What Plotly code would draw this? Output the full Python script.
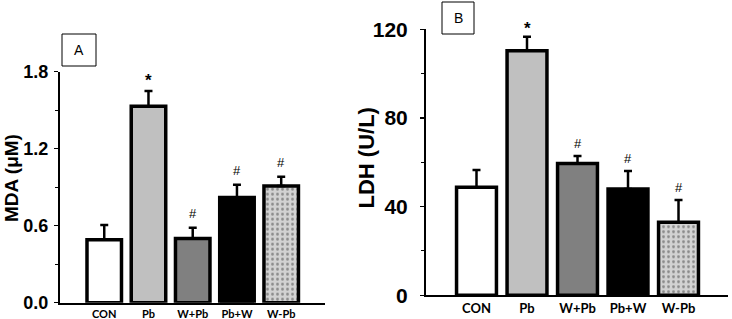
import plotly.graph_objects as go

categories = ["CON", "Pb", "W+Pb", "Pb+W", "W-Pb"]
mda_values = [0.49, 1.53, 0.50, 0.82, 0.91]
mda_errors = [0.115, 0.12, 0.085, 0.10, 0.072]
mda_marks = ["", "*", "#", "#", "#"]
ldh_values = [48.7, 110.3, 59.5, 47.9, 32.9]
ldh_errors = [7.8, 6.3, 3.3, 8.2, 10.1]
ldh_marks = ["", "*", "#", "#", "#"]
mda_ticks = [0.0, 0.6, 1.2, 1.8]
ldh_ticks = [0, 40, 80, 120]

W, H = 732, 319
fills = ["white", "#c0c0c0", "#808080", "black", "#d2d2d2"]
shapes_pat = ["", "", "", "", "."]

def px(x):
    return x / W

def py(y):
    return 1 - y / H

fig = go.Figure()

def add_panel(vals, errs, xa, ya, width):
    fig.add_trace(go.Bar(
        x=categories, y=vals, xaxis=xa, yaxis=ya, width=width,
        marker=dict(color=fills, line=dict(color="black", width=3.5),
                    pattern=dict(shape=shapes_pat, fgcolor="black", bgcolor="#d2d2d2",
                                 size=5, solidity=0.25)),
        error_y=dict(type="data", symmetric=False, array=errs,
                     arrayminus=[0] * len(errs), color="black", thickness=2.5, width=4),
        showlegend=False, hoverinfo="skip",
    ))

add_panel(mda_values, mda_errors, "x", "y", 0.78)
add_panel(ldh_values, ldh_errors, "x2", "y2", 0.79)

axis_common = dict(showgrid=False, zeroline=False, showline=True, linecolor="black",
                   linewidth=2, automargin=False)

fig.update_layout(
    width=W, height=H, margin=dict(l=0, r=0, t=0, b=0, autoexpand=False),
    paper_bgcolor="white", plot_bgcolor="white",
    bargap=0.2,
    xaxis=dict(domain=[px(60), px(325)], anchor="y", type="category", range=[-1, 4.99],
               ticks="", tickfont=dict(family="Lato", size=11, color="black", weight="bold"),
               **axis_common),
    yaxis=dict(domain=[py(302.7), py(71.7)], anchor="x", range=[0, 1.8],
               tickvals=mda_ticks, ticktext=[f"{t:.1f}" for t in mda_ticks],
               ticks="outside", ticklen=4, tickwidth=1.5, tickcolor="black",
               minor=dict(dtick=0.3, tick0=0, ticks="outside", ticklen=3, tickwidth=1, tickcolor="black"),
               tickfont=dict(family="Liberation Sans", size=18, color="black", weight="bold"),
               ticklabelstandoff=2,
               **axis_common),
    xaxis2=dict(domain=[px(426), px(728)], anchor="y2", type="category", range=[-1, 4.98],
                ticks="", tickfont=dict(family="Lato", size=13, color="black", weight="bold"),
                **axis_common),
    yaxis2=dict(domain=[py(295.3), py(29.3)], anchor="x2", range=[0, 120],
                tickvals=ldh_ticks, ticktext=[str(t) for t in ldh_ticks],
                ticks="outside", ticklen=4, tickwidth=1.5, tickcolor="black",
                minor=dict(dtick=20, tick0=0, ticks="outside", ticklen=3, tickwidth=1, tickcolor="black"),
                tickfont=dict(family="Liberation Sans", size=21, color="black", weight="bold"),
                ticklabelstandoff=8,
                **axis_common),
)

def mark_font(m):
    if m == "*":
        return dict(family="Liberation Sans", size=17, color="black", weight="bold")
    return dict(family="Liberation Sans", size=13, color="black")

annotations = []
for c, v, e, m in zip(categories, mda_values, mda_errors, mda_marks):
    if m:
        annotations.append(dict(x=c, y=v + e, xref="x", yref="y", text=m, showarrow=False,
                                yanchor="bottom", yshift=(-1 if m == "*" else 5),
                                font=mark_font(m)))
for c, v, e, m in zip(categories, ldh_values, ldh_errors, ldh_marks):
    if m:
        annotations.append(dict(x=c, y=v + e, xref="x2", yref="y2", text=m, showarrow=False,
                                yanchor="bottom", yshift=(-3 if m == "*" else 3),
                                font=mark_font(m)))

annotations.append(dict(x=px(11), y=py(178), xref="paper", yref="paper", text="MDA (μM)",
                        textangle=-90, showarrow=False, xanchor="center", yanchor="middle",
                        font=dict(family="Liberation Sans", size=19, color="black", weight="bold")))
annotations.append(dict(x=px(366), y=py(158.5), xref="paper", yref="paper", text="LDH (U/L)",
                        textangle=-90, showarrow=False, xanchor="center", yanchor="middle",
                        font=dict(family="Liberation Sans", size=22, color="black", weight="bold")))

annotations.append(dict(x=px(79), y=py(50), xref="paper", yref="paper", text="A", showarrow=False,
                        xanchor="center", yanchor="middle",
                        font=dict(family="Liberation Sans", size=14, color="black")))
annotations.append(dict(x=px(458), y=py(18), xref="paper", yref="paper", text="B", showarrow=False,
                        xanchor="center", yanchor="middle",
                        font=dict(family="Liberation Sans", size=14, color="black")))

shapes = [
    dict(type="rect", xref="paper", yref="paper", x0=px(62), x1=px(96), y0=py(66), y1=py(34),
         line=dict(color="black", width=1), fillcolor="white"),
    dict(type="rect", xref="paper", yref="paper", x0=px(442), x1=px(474), y0=py(34), y1=py(2),
         line=dict(color="black", width=1), fillcolor="white"),
]

fig.update_layout(annotations=annotations, shapes=shapes)
fig.write_html("out.html", config={"displayModeBar": False, "staticPlot": True},
               post_script="document.body.style.margin='0';document.body.style.padding='0';"
                           "document.body.style.overflow='hidden';")
